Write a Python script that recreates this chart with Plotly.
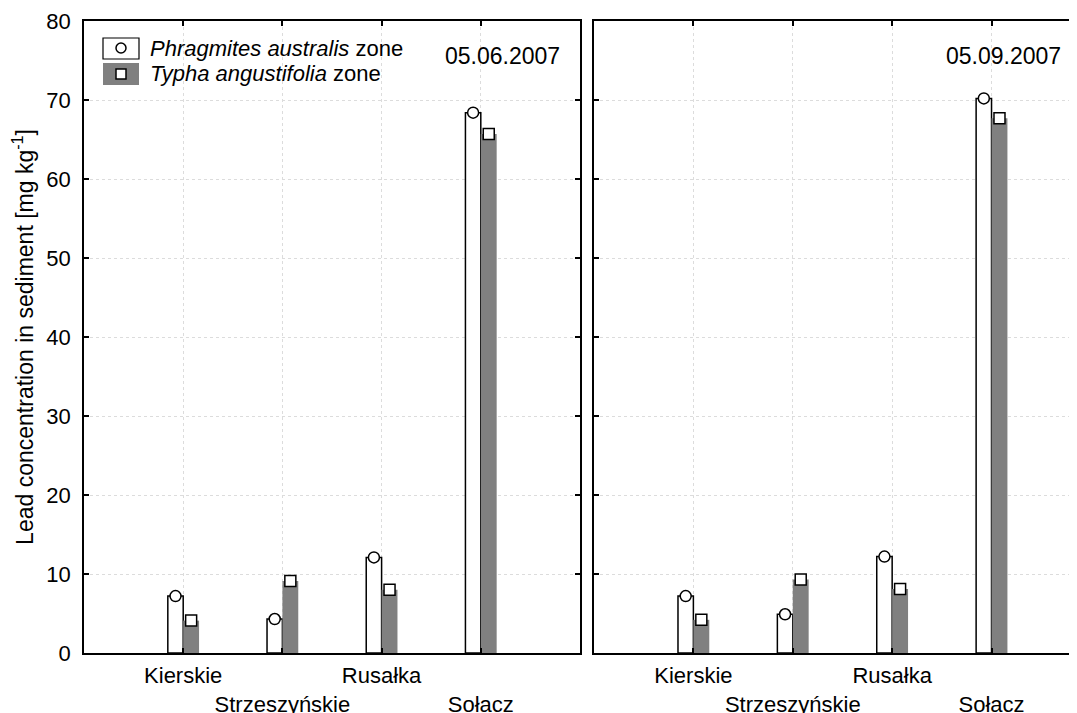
import plotly.graph_objects as go

categories = ["Kierskie", "Strzeszyńskie", "Rusałka", "Sołacz"]
tick_text = ["Kierskie", "<br>Strzeszyńskie", "Rusałka", "<br>Sołacz"]
dates = ["05.06.2007", "05.09.2007"]

phrag_jun = [7.2, 4.3, 12.1, 68.4]
typha_jun = [4.1, 9.1, 8.0, 65.7]
phrag_sep = [7.2, 4.9, 12.2, 70.2]
typha_sep = [4.2, 9.3, 8.1, 67.7]

y_ticks = [0, 10, 20, 30, 40, 50, 60, 70, 80]

W_WHITE = 0.155
W_GREY = 0.16
GREY = "#808080"
FONT = "Arial, Liberation Sans, sans-serif"

pos = [i + 1 for i in range(len(categories))]

fig = go.Figure()

panels = [(phrag_jun, typha_jun, "x", "y"), (phrag_sep, typha_sep, "x2", "y2")]
for phr, typ, xa, ya in panels:
    fig.add_trace(go.Bar(x=pos, y=phr, offset=-W_WHITE, width=W_WHITE,
                         marker=dict(color="white", line=dict(color="black", width=1.5)),
                         xaxis=xa, yaxis=ya, showlegend=False))
    fig.add_trace(go.Bar(x=pos, y=typ, offset=0, width=W_GREY,
                         marker=dict(color=GREY, line=dict(width=0)),
                         xaxis=xa, yaxis=ya, showlegend=False))
    fig.add_trace(go.Scatter(x=[p - W_WHITE / 2 for p in pos], y=phr, mode="markers",
                             marker=dict(symbol="circle", size=11, color="white",
                                         line=dict(color="black", width=1.5)),
                             xaxis=xa, yaxis=ya, showlegend=False, cliponaxis=False))
    fig.add_trace(go.Scatter(x=[p + W_GREY / 2 for p in pos], y=typ, mode="markers",
                             marker=dict(symbol="square", size=11, color="white",
                                         line=dict(color="black", width=1.5)),
                             xaxis=xa, yaxis=ya, showlegend=False, cliponaxis=False))

grid = dict(showgrid=True, gridcolor="#dcdcdc", griddash="dot", gridwidth=1)
axline = dict(showline=True, linecolor="black", linewidth=1.5, ticks="inside",
              ticklen=5, tickcolor="black", tickwidth=1.5, zeroline=False,
              automargin=False)

xcommon = dict(tickmode="array", tickvals=pos, ticktext=tick_text, tickangle=0,
               tickfont=dict(size=22, color="black", family=FONT), mirror="ticks",
               ticklabelstandoff=2, **grid, **axline)
fig.update_layout(
    width=1069, height=705,
    margin=dict(l=76, r=0, t=13, b=60),
    paper_bgcolor="white", plot_bgcolor="white",
    barmode="overlay",
    font=dict(family=FONT, color="black"),
    xaxis=dict(domain=[0, 0.4995], range=[0, 5], **xcommon),
    xaxis2=dict(domain=[0.5136, 1], range=[0, 4.86], anchor="y2", **xcommon),
    yaxis=dict(range=[0, 80], tickvals=y_ticks, mirror="ticks",
               tickfont=dict(size=22, color="black", family=FONT), ticklabelstandoff=7,
               title=dict(text="Lead concentration in sediment [mg kg<sup>-1</sup>]",
                          font=dict(size=23, color="black", family=FONT)),
               **grid, **axline),
    yaxis2=dict(range=[0, 80], tickvals=y_ticks, showticklabels=False, anchor="x2",
                mirror=False, **grid, **axline),
)

# date labels
fig.add_annotation(text=dates[0], xref="x domain", yref="y domain", x=0.963, y=0.944,
                   xanchor="right", yanchor="middle", showarrow=False,
                   font=dict(size=23, color="black", family=FONT))
fig.add_annotation(text=dates[1], xref="x2 domain", yref="y2 domain", x=0.97, y=0.944,
                   xanchor="right", yanchor="middle", showarrow=False,
                   font=dict(size=23, color="black", family=FONT))

# manual legend (positions in pixels of the plot area, converted to domain fractions)
def dx(px):
    return (px - 84) / 496.0

def dy(py):
    return (653 - py) / 632.0

fig.add_shape(type="rect", xref="x domain", yref="y domain", x0=dx(103), x1=dx(139),
              y0=dy(59), y1=dy(38), fillcolor="white", line=dict(color="black", width=1.2))
fig.add_shape(type="rect", xref="x domain", yref="y domain", x0=dx(103), x1=dx(139),
              y0=dy(85), y1=dy(63), fillcolor=GREY, line=dict(width=0))
fig.add_shape(type="circle", xref="x domain", yref="y domain", x0=dx(116), x1=dx(126),
              y0=dy(53), y1=dy(43), fillcolor="white", line=dict(color="black", width=1.5))
fig.add_shape(type="rect", xref="x domain", yref="y domain", x0=dx(116), x1=dx(126),
              y0=dy(79), y1=dy(69), fillcolor="white", line=dict(color="black", width=1.5))
fig.add_annotation(text="<i>Phragmites australis</i> zone", xref="x domain", yref="y domain",
                   x=dx(148), y=dy(48), xanchor="left", yanchor="middle", showarrow=False,
                   font=dict(size=22, color="black", family=FONT))
fig.add_annotation(text="<i>Typha angustifolia</i> zone", xref="x domain", yref="y domain",
                   x=dx(148), y=dy(73), xanchor="left", yanchor="middle", showarrow=False,
                   font=dict(size=22, color="black", family=FONT))

fig.write_html("out.html")
